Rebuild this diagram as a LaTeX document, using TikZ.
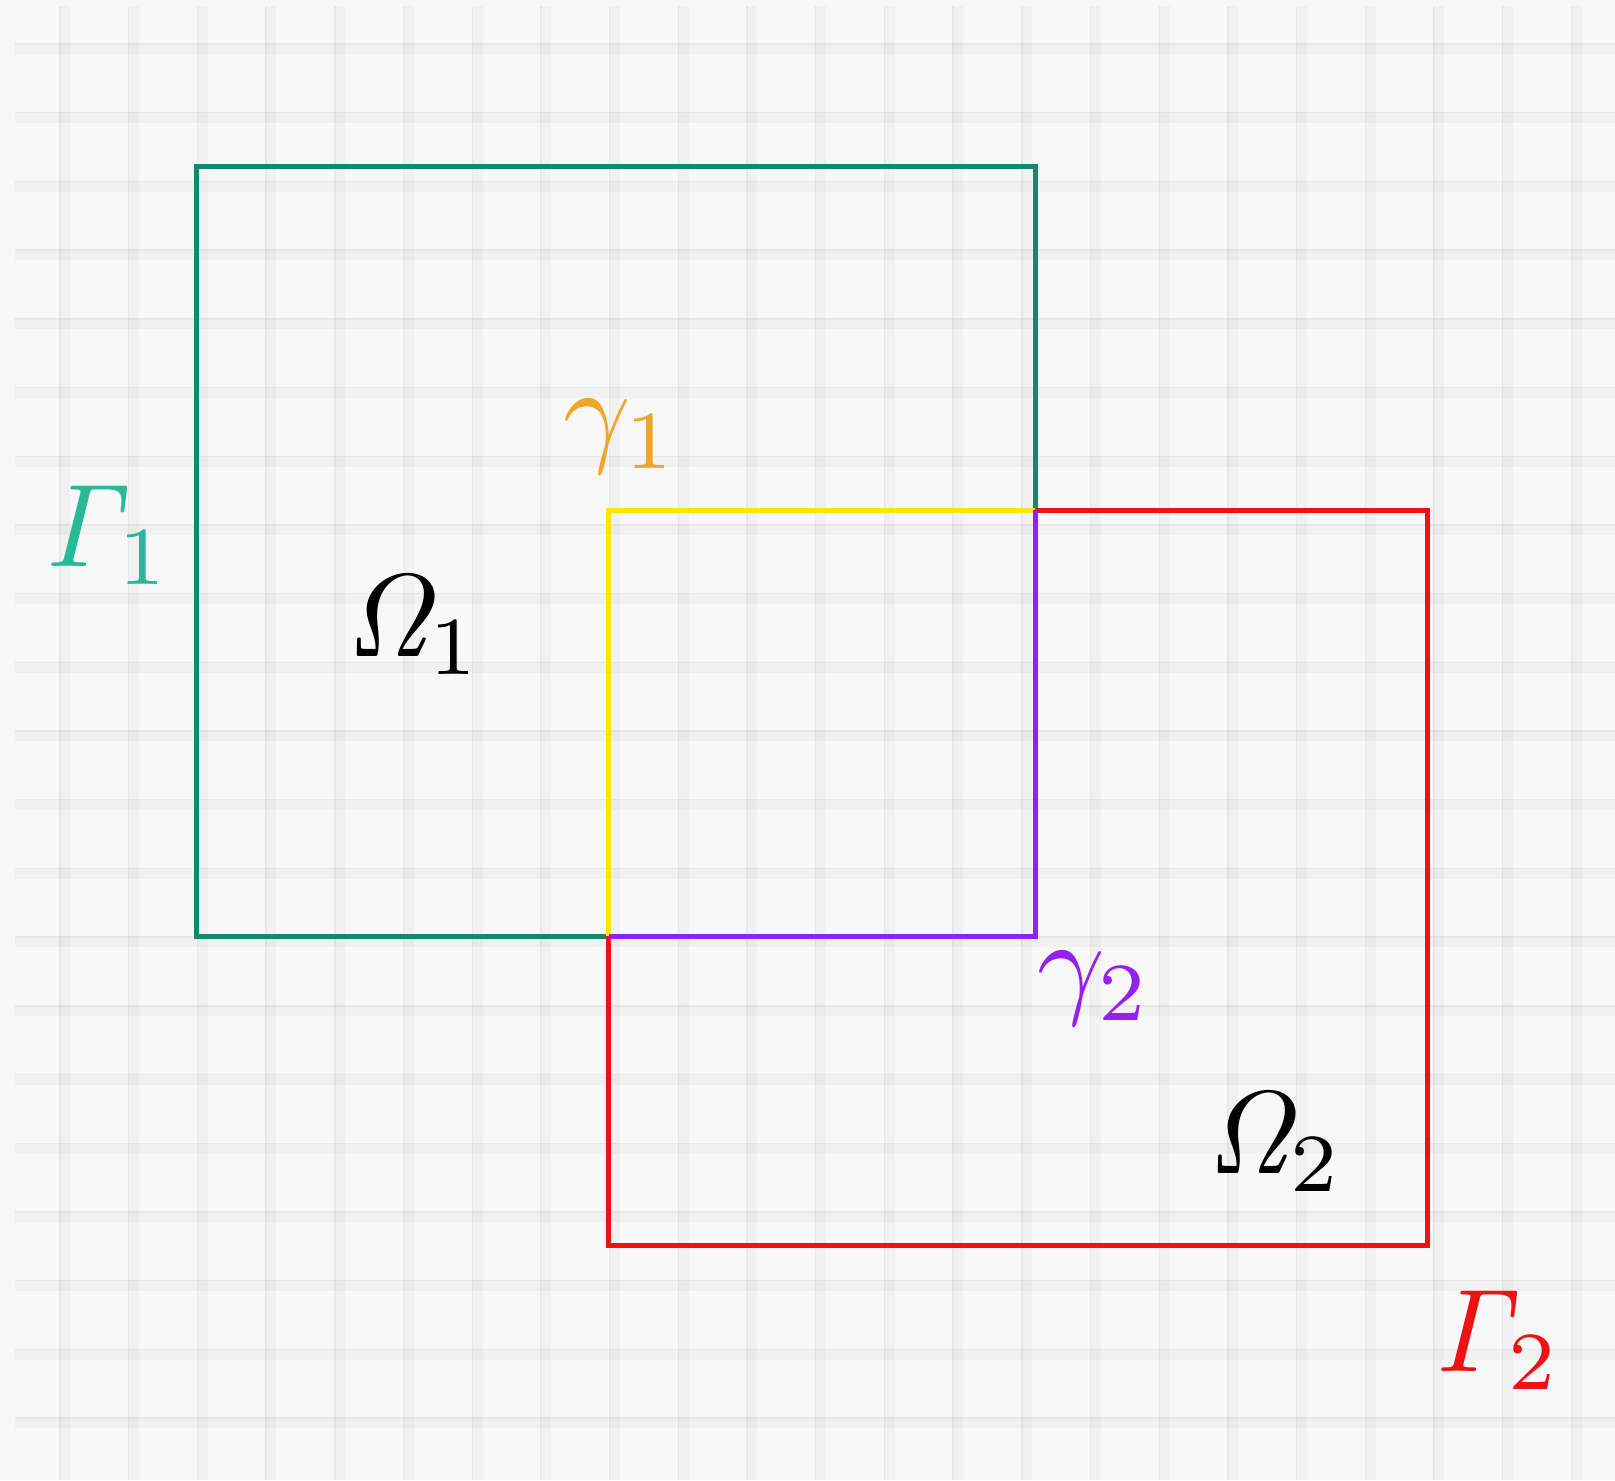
\documentclass[tikz,border=0pt]{standalone}
\usepackage{amsmath}
\definecolor{bgc}{RGB}{248,248,248}
\definecolor{omgreen}{RGB}{16,137,110}
\definecolor{lblgreen}{RGB}{40,185,150}
\definecolor{omorange}{RGB}{242,165,45}
\definecolor{omyellow}{RGB}{255,228,0}
\definecolor{ompurple}{RGB}{148,32,242}
\definecolor{omred}{RGB}{240,18,18}
\begin{document}
\begin{tikzpicture}[x=0.5pt,y=-0.5pt,
  band/.style={fill=black,fill opacity=0.026},
  bandedge/.style={draw=black,draw opacity=0.035,line width=0.7pt},
  edge/.style={line width=2.5pt,line join=miter,line cap=rect},
  lab/.style={scale=5.9,inner sep=0pt}]
\fill[bgc] (0,0) rectangle (1615,1480);
\useasboundingbox (0,0) rectangle (1615,1480);
% grid
\foreach \k in {0,...,22}{
  \pgfmathsetmacro\xx{59.3+68.7*\k}
  \fill[band] (\xx,6) rectangle (\xx+11,1480);
  \draw[bandedge] (\xx+0.7,6) -- (\xx+0.7,1480);
}
\foreach \k in {0,...,20}{
  \pgfmathsetmacro\yy{43.3+68.7*\k}
  \fill[band] (15,\yy) rectangle (1615,\yy+11);
  \draw[bandedge] (15,\yy+0.7) -- (1615,\yy+0.7);
}
% corners
\coordinate (g1) at (196.5,166.5);
\coordinate (g2) at (1035,936);
\coordinate (r1) at (608.5,510);
\coordinate (r2) at (1427,1245);
\coordinate (iTL) at (608.5,510);
\coordinate (iTR) at (1035,510);
\coordinate (iBR) at (1035,936);
\coordinate (iBL) at (608.5,936);
% boxes
\draw[edge,omgreen] (g1) rectangle (g2);
\draw[edge,omred] (r1) rectangle (r2);
\draw[edge,omyellow,line cap=butt] (iBL) -- (iTL) -- (iTR);
\draw[edge,ompurple,line cap=butt] (iTR) -- (iBR) -- (iBL);
% labels
\node[lab,text=lblgreen] (G1) at (108,535) {$\mathit{\Gamma}_1$};
\node[lab,text=black] (O1) at (414,625) {$\mathit{\Omega}_1$};
\node[lab,text=omorange] (g1l) at (621,437) {$\gamma_1$};
\node[lab,text=ompurple] (g2l) at (1094,989) {$\gamma_2$};
\node[lab,text=black] (O2) at (1275,1142) {$\mathit{\Omega}_2$};
\node[lab,text=omred] (G2) at (1498,1340) {$\mathit{\Gamma}_2$};
\end{tikzpicture}
\end{document}
